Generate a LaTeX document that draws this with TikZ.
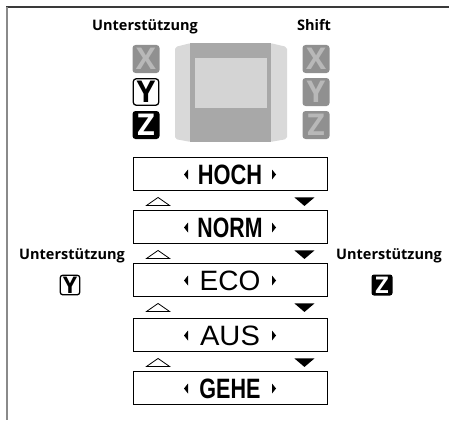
\documentclass[tikz,border=0pt]{standalone}
\usepackage{fontspec}
\setmainfont{Open Sans}
\newfontfamily\lcd{Liberation Sans}
\definecolor{keyfill}{HTML}{909090}
\definecolor{keyletter}{HTML}{B8B8B8}
\definecolor{bodygray}{HTML}{A8A8A8}
\definecolor{sidegray}{HTML}{D9D9D9}
\definecolor{screengray}{HTML}{D4D4D4}
\definecolor{framedark}{HTML}{3A3A3A}
\definecolor{framegray}{HTML}{8A8A8A}
\newcommand{\lcdword}[3]{\scalebox{#1}[1]{\lcd\fontsize{28}{28}#2\selectfont #3}}
\begin{document}
\begin{tikzpicture}[x=1pt,y=-1pt,
  lbl/.style={font=\fontsize{14.5}{16}\bfseries\selectfont, anchor=base, inner sep=0pt},
  keybase/.style={rounded corners=3pt, minimum width=27pt, minimum height=28pt, inner sep=0pt, font=\fontsize{30}{30}\bfseries\selectfont},
  graykey/.style={keybase, fill=keyfill, text=keyletter},
  whitekey/.style={keybase, draw=black, line width=1.3pt, fill=white, text=black, minimum width=25.5pt, minimum height=26.5pt},
  blackkey/.style={keybase, fill=black, text=white},
  smallwhite/.style={whitekey, minimum width=19.5pt, minimum height=19.5pt, font=\fontsize{23}{23}\bfseries\selectfont, rounded corners=2.5pt},
  smallblack/.style={blackkey, minimum width=21pt, minimum height=21pt, font=\fontsize{23}{23}\bfseries\selectfont, rounded corners=2.5pt},
  modebox/.style={draw=black, line width=0.9pt, minimum width=194pt, minimum height=33pt, inner sep=0pt},
  modetext/.style={inner sep=0pt},
  uptri/.style={draw=black, line width=0.8pt, fill=white, line join=miter},
  downtri/.style={fill=black}
]
\useasboundingbox (0,0) rectangle (449,420);
% frame
\draw[framedark, line width=1.6pt] (6,7) -- (449,7);
\draw[framegray, line width=2pt] (6.5,7) -- (6.5,420);

% top labels
\node[lbl] (lblU) at (145,31) {Unterstützung};
\node[lbl] (lblS) at (314,31) {Shift};

% device
\fill[sidegray, rounded corners=2pt] (191,43) -- (175,47) -- (175,139) -- (191,142) -- cycle;
\fill[sidegray, rounded corners=2pt] (270,43) -- (287,47) -- (287,139) -- (270,142) -- cycle;
\fill[bodygray] (190,43) rectangle (271,142);
\fill[screengray] (195,58) rectangle (267,108);

% left keys
\node[graykey] (lx) at (146,59) {X};
\node[whitekey] (ly) at (146,92) {Y};
\node[blackkey] (lz) at (146,125) {Z};
% right keys
\node[graykey] (rx) at (316,59) {X};
\node[graykey] (ry) at (316,92) {Y};
\node[graykey] (rz) at (316,125) {Z};

% mode boxes
\foreach \i/\top/\t/\w/\s in {0/157/HOCH/\bfseries/0.78,1/210/NORM/\bfseries/0.76,2/263/ECO/\mdseries/1.0,3/318/AUS/\mdseries/1.04,4/371/GEHE/\bfseries/0.77}{
  \node[modebox] (m\i) at (230,{\top+16.5}) {};
  \node[modetext] (mt\i) at ([yshift=-1pt]m\i.center) {\lcdword{\s}{\w}{\t}};
  \fill ([xshift=-46pt,yshift=-1pt]m\i.center) -- ([xshift=-42pt,yshift=4pt]m\i.center) -- ([xshift=-42pt,yshift=-6pt]m\i.center) -- cycle;
  \fill ([xshift=46pt,yshift=-1pt]m\i.center) -- ([xshift=42pt,yshift=4pt]m\i.center) -- ([xshift=42pt,yshift=-6pt]m\i.center) -- cycle;
}
\foreach \i in {0,1,2,3}{
  \draw[uptri] ([xshift=14pt,yshift=-15pt]m\i.south west) -- ([xshift=37pt,yshift=-15pt]m\i.south west) -- ([xshift=25.5pt,yshift=-7pt]m\i.south west) -- cycle;
  \fill[downtri] ([xshift=-33pt,yshift=-7pt]m\i.south east) -- ([xshift=-13pt,yshift=-7pt]m\i.south east) -- ([xshift=-23pt,yshift=-15.5pt]m\i.south east) -- cycle;
}

% side labels
\node[lbl] (sl) at (72,259) {Unterstützung};
\node[smallwhite] (sy) at (70,285) {Y};
\node[lbl] (sr) at (389,259) {Unterstützung};
\node[smallblack] (sz) at (382,285) {Z};
\end{tikzpicture}
\end{document}
